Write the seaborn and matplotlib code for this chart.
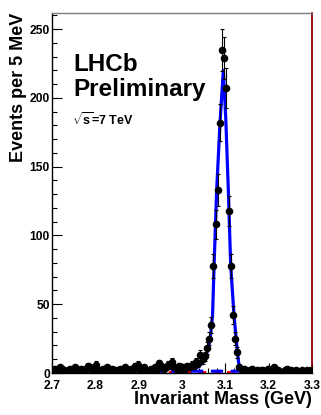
import numpy as np
import pandas as pd
import matplotlib
matplotlib.use("Agg")
import matplotlib.pyplot as plt
from matplotlib.ticker import MultipleLocator
import seaborn as sns

# ---- data ----
bin_start = 2.7025
bin_width = 0.005
counts = [
    2, 3, 1, 4, 3, 2, 1, 2, 3, 1,
    4, 2, 1, 3, 2, 3, 5, 4, 2, 3,
    6, 2, 1, 3, 2, 4, 1, 3, 2, 2,
    1, 3, 2, 4, 2, 1, 3, 2, 5, 6,
    2, 3, 4, 2, 1, 3, 2, 4, 3, 7,
    5, 3, 4, 6, 5, 8, 4, 3, 5, 2,
    4, 3, 5, 4, 6, 5, 8, 7, 13,
    10, 12, 18, 25, 35, 78, 108, 133, 182, 235,
    229, 207, 118, 78, 42, 25, 15, 4, 2,
    3, 2, 1, 2, 3, 1, 2, 1, 2, 2,
    1, 3, 1, 2, 4, 1, 2, 1, 1, 2,
    3, 1, 2, 1, 2, 1, 1, 2, 1, 2,
    1, 2,
]
fit_x = [3.000, 3.020, 3.035, 3.045, 3.053, 3.060, 3.065, 3.0705, 3.074, 3.080,
         3.0877, 3.0954, 3.1010, 3.1069, 3.1124, 3.1200, 3.1263, 3.1305, 3.1340, 3.1400]
fit_y = [1.8, 2.6, 4.0, 6.5, 11, 17, 25, 42, 78, 133,
         182, 220, 185, 133, 78, 42, 20, 8, 2.5, 1.5]
bg_x = [2.7, 3.3]
bg_y = [1.5, 1.2]
bg2_x = [2.7, 3.3]
bg2_y = [0.6, 0.6]

centers = bin_start + bin_width * np.arange(len(counts))
df = pd.DataFrame({"mass": centers, "events": counts})
df["err"] = np.sqrt(df["events"])

sns.set_style("ticks")
plt.rcParams['font.family'] = ['Liberation Sans', 'DejaVu Sans']
plt.rcParams['font.weight'] = 'bold'
plt.rcParams['text.color'] = 'black'
plt.rcParams['axes.labelcolor'] = 'black'
plt.rcParams['xtick.color'] = 'black'
plt.rcParams['ytick.color'] = 'black'
plt.rcParams['mathtext.fontset'] = 'custom'
plt.rcParams['mathtext.rm'] = 'Liberation Sans:bold'
plt.rcParams['mathtext.it'] = 'Liberation Sans:bold'
plt.rcParams['mathtext.bf'] = 'Liberation Sans:bold'

fig = plt.figure(figsize=(3.21, 4.15), dpi=100)
ax = fig.add_axes([52/321, 42/415, 260/321, 360/415])

# background components
sns.lineplot(x=bg2_x, y=bg2_y, ax=ax, color='red', lw=1.5, linestyle=(0, (4, 3)), zorder=2)
sns.lineplot(x=bg_x, y=bg_y, ax=ax, color='blue', lw=2.2, linestyle=(0, (4, 2.5)), zorder=3)
# total fit
sns.lineplot(x=fit_x, y=fit_y, ax=ax, color='blue', lw=2.3, sort=False, zorder=4)

# data with error bars
ax.errorbar(df["mass"], df["events"], yerr=df["err"], fmt='none', ecolor='black',
            elinewidth=0.8, capsize=1.3, capthick=0.8, zorder=5)
sns.scatterplot(data=df, x="mass", y="events", ax=ax, color='black', s=30,
                edgecolor='black', linewidth=0, zorder=6)

ax.set_xlim(2.7, 3.3)
ax.set_ylim(0, 261.7)
ax.set_xticks([2.7, 2.8, 2.9, 3.0, 3.1, 3.2, 3.3])
ax.set_xticklabels(['2.7', '2.8', '2.9', '3', '3.1', '3.2', '3.3'])
ax.set_yticks([0, 50, 100, 150, 200, 250])
ax.xaxis.set_minor_locator(MultipleLocator(0.02))
ax.yaxis.set_minor_locator(MultipleLocator(10))
ax.tick_params(axis='both', which='major', direction='in', length=7, width=0.8,
               labelsize=8.7, colors='black')
ax.tick_params(axis='x', which='major', pad=5)
ax.tick_params(axis='y', which='major', pad=1.5)
ax.tick_params(axis='both', which='minor', direction='in', length=3.5, width=0.8, colors='black')
ax.tick_params(axis='x', which='both', top=False)
ax.tick_params(axis='y', which='both', right=False)
for lab in ax.get_xticklabels() + ax.get_yticklabels():
    lab.set_fontweight('bold')

ax.set_xlabel('Invariant Mass (GeV)', fontsize=13, fontweight='bold', loc='right', labelpad=-1)
ax.set_ylabel('Events per 5 MeV', fontsize=13, fontweight='bold', loc='top', labelpad=2)

for side in ['left', 'bottom']:
    ax.spines[side].set_color('black')
    ax.spines[side].set_linewidth(1.0)
ax.spines['top'].set_visible(True)
ax.spines['top'].set_color('#7f7f7f')
ax.spines['top'].set_linewidth(1.0)
ax.spines['right'].set_visible(True)
ax.spines['right'].set_color('#8b0000')
ax.spines['right'].set_linewidth(1.3)

ax.text(0.081, 0.840, 'LHCb', transform=ax.transAxes, fontsize=17.5, fontweight='bold',
        va='baseline', ha='left', color='black')
ax.text(0.081, 0.769, 'Preliminary', transform=ax.transAxes, fontsize=17.5, fontweight='bold',
        va='baseline', ha='left', color='black')
ax.text(0.075, 0.690, r'$\sqrt{\mathrm{s}}$=7 TeV', transform=ax.transAxes, fontsize=9,
        fontweight='bold', va='baseline', ha='left', color='black')

fig.savefig('out.png', dpi=100)
